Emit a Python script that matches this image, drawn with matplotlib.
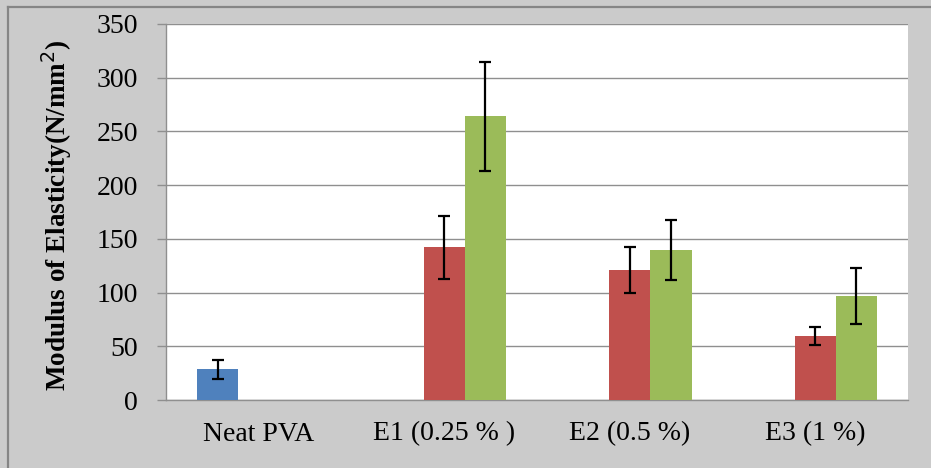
import numpy as np
import matplotlib
matplotlib.use("Agg")
import matplotlib.pyplot as plt
from matplotlib.lines import Line2D

categories = ["Neat PVA", "E1 (0.25 % )", "E2 (0.5 %)", "E3 (1 %)"]
series_blue = [28.5, np.nan, np.nan, np.nan]
err_blue = [9, np.nan, np.nan, np.nan]
series_red = [np.nan, 142, 121, 59.5]
err_red = [np.nan, 29.5, 21, 8]
series_green = [np.nan, 264, 139.5, 96.5]
err_green = [np.nan, 50.5, 28, 26]
y_ticks = [0, 50, 100, 150, 200, 250, 300, 350]

plt.rcParams["font.family"] = ["Liberation Serif", "DejaVu Serif"]

W, H = 931, 468
fig = plt.figure(figsize=(W / 100, H / 100), dpi=100)
bg = "#cbcbcb"
fig.patch.set_facecolor(bg)

ax = fig.add_axes([166 / W, (H - 400) / H, (908 - 166) / W, (400 - 24) / H])
ax.set_facecolor("white")

x = np.arange(len(categories))
bw = 0.2222  # three bars per group, gap width 150 %
colors = ["#4f81bd", "#c0504d", "#9bbb59"]
ekw = dict(ecolor="black", elinewidth=1.6, capsize=4.6, capthick=1.6)
for off, vals, errs, c in [(-bw, series_blue, err_blue, colors[0]),
                           (0, series_red, err_red, colors[1]),
                           (bw, series_green, err_green, colors[2])]:
    ax.bar(x + off, vals, bw, color=c, yerr=errs, error_kw=ekw, zorder=3)

ax.set_xlim(-0.5, len(categories) - 0.5)
ax.set_ylim(0, 350)
ax.set_yticks(y_ticks)
ax.set_yticklabels([str(v) for v in y_ticks])
ax.set_xticks(x)
ax.set_xticklabels(categories)
ax.yaxis.grid(True, color="#8f8f8f", linewidth=1.0, zorder=0)
ax.set_axisbelow(True)

for s in ["top", "right"]:
    ax.spines[s].set_visible(False)
for s in ["left", "bottom"]:
    ax.spines[s].set_color("#8f8f8f")
    ax.spines[s].set_linewidth(1.0)

ax.tick_params(axis="y", length=6.5, width=1.0, color="#8f8f8f",
               labelsize=20, pad=13.5)
ax.tick_params(axis="x", length=0, labelsize=20, pad=15.5)

fig.text(57 / W, (H - 215) / H, "Modulus of Elasticity(N/mm$^{2}$)",
         rotation=90, ha="center", va="center", fontsize=19.5,
         fontweight="bold")

# outer chart frame
fig.add_artist(Line2D([8 / W, 1.0], [(H - 7) / H, (H - 7) / H],
                      color="#858585", linewidth=1.6))
fig.add_artist(Line2D([8 / W, 8 / W], [0, (H - 7) / H],
                      color="#858585", linewidth=1.6))

fig.savefig("out.png", dpi=100, facecolor=bg)
